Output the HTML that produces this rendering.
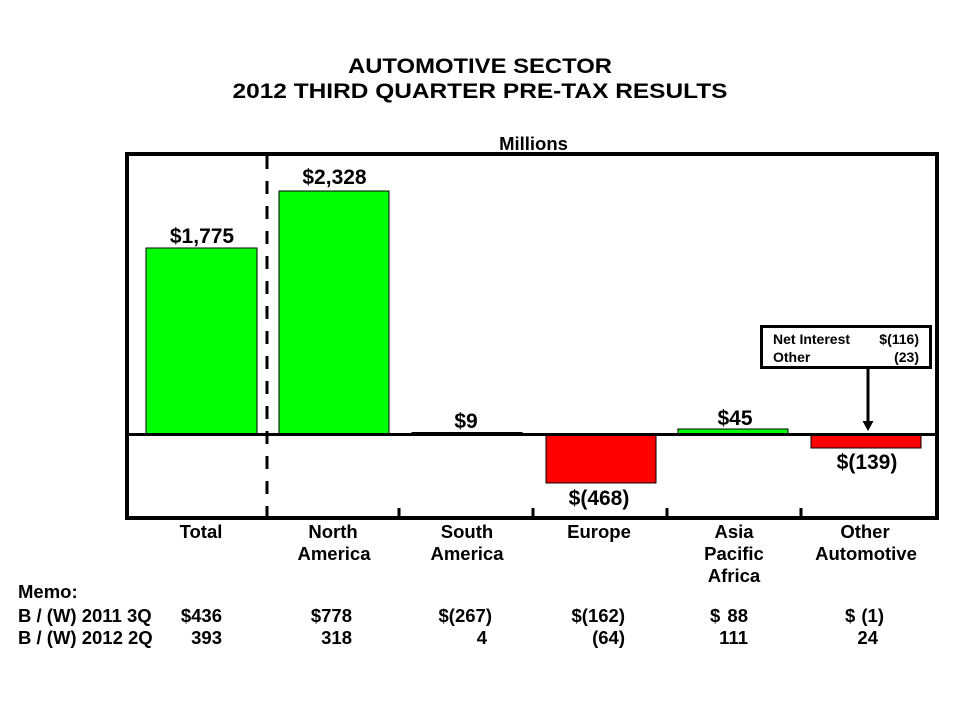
<!DOCTYPE html>
<html>
<head>
<meta charset="utf-8">
<style>
  html,body{margin:0;padding:0;background:#fff;}
  svg{display:block;}
  text{font-family:"Liberation Sans",Arial,sans-serif;font-weight:bold;fill:#000;}
</style>
</head>
<body>
<svg width="960" height="720" viewBox="0 0 960 720" xmlns="http://www.w3.org/2000/svg">
  <rect x="0" y="0" width="960" height="720" fill="#fff"/>

  <!-- Title -->
  <text x="480" y="73" font-size="21.5" text-anchor="middle" textLength="264" lengthAdjust="spacingAndGlyphs">AUTOMOTIVE SECTOR</text>
  <text x="480" y="98" font-size="21.5" text-anchor="middle" textLength="495" lengthAdjust="spacingAndGlyphs">2012 THIRD QUARTER PRE-TAX RESULTS</text>
  <text x="533.5" y="150" font-size="18.5" text-anchor="middle">Millions</text>

  <!-- Bars -->
  <rect x="146" y="248" width="111" height="186.5" fill="#00ff00" stroke="#000" stroke-width="1"/>
  <rect x="279" y="191" width="110" height="243.5" fill="#00ff00" stroke="#000" stroke-width="1"/>
  <rect x="412" y="432.5" width="110" height="2" fill="#00ff00" stroke="#000" stroke-width="1"/>
  <rect x="546" y="434.5" width="110" height="48.5" fill="#ff0000" stroke="#000" stroke-width="1"/>
  <rect x="678" y="429" width="110" height="5.5" fill="#00ff00" stroke="#000" stroke-width="1"/>
  <rect x="811" y="434.5" width="110" height="13.5" fill="#ff0000" stroke="#000" stroke-width="1"/>

  <!-- Zero line -->
  <line x1="127" y1="434.5" x2="937" y2="434.5" stroke="#000" stroke-width="3"/>

  <!-- Dashed divider -->
  <line x1="267" y1="156" x2="267" y2="517" stroke="#000" stroke-width="3" stroke-dasharray="13,12"/>

  <!-- Ticks -->
  <line x1="399" y1="508" x2="399" y2="518" stroke="#000" stroke-width="3"/>
  <line x1="533" y1="508" x2="533" y2="518" stroke="#000" stroke-width="3"/>
  <line x1="667" y1="508" x2="667" y2="518" stroke="#000" stroke-width="3"/>
  <line x1="801" y1="508" x2="801" y2="518" stroke="#000" stroke-width="3"/>

  <!-- Frame -->
  <rect x="127" y="154" width="810" height="364" fill="none" stroke="#000" stroke-width="4"/>

  <!-- Value labels -->
  <text x="202" y="243" font-size="21" text-anchor="middle">$1,775</text>
  <text x="334.5" y="184" font-size="21" text-anchor="middle">$2,328</text>
  <text x="466" y="428" font-size="21" text-anchor="middle">$9</text>
  <text x="599" y="505" font-size="21" text-anchor="middle">$(468)</text>
  <text x="735" y="425" font-size="21" text-anchor="middle">$45</text>
  <text x="867" y="469" font-size="21" text-anchor="middle">$(139)</text>

  <!-- Callout -->
  <rect x="761.5" y="326.5" width="169" height="41" fill="#fff" stroke="#000" stroke-width="3"/>
  <text x="773" y="344" font-size="14">Net Interest</text>
  <text x="919" y="344" font-size="14" text-anchor="end">$(116)</text>
  <text x="773" y="362" font-size="14">Other</text>
  <text x="919" y="362" font-size="14" text-anchor="end">(23)</text>
  <line x1="868" y1="368" x2="868" y2="424" stroke="#000" stroke-width="3"/>
  <polygon points="862.5,421 873.5,421 868,431" fill="#000"/>

  <!-- Category labels -->
  <text x="201" y="538" font-size="18.5" text-anchor="middle">Total</text>
  <text x="333" y="538" font-size="18.5" text-anchor="middle">North</text>
  <text x="334" y="560" font-size="18.5" text-anchor="middle">America</text>
  <text x="467" y="538" font-size="18.5" text-anchor="middle">South</text>
  <text x="467" y="560" font-size="18.5" text-anchor="middle">America</text>
  <text x="599" y="538" font-size="18.5" text-anchor="middle">Europe</text>
  <text x="734" y="538" font-size="18.5" text-anchor="middle">Asia</text>
  <text x="734" y="560" font-size="18.5" text-anchor="middle">Pacific</text>
  <text x="734" y="582" font-size="18.5" text-anchor="middle">Africa</text>
  <text x="865" y="538" font-size="18.5" text-anchor="middle">Other</text>
  <text x="866" y="560" font-size="18.5" text-anchor="middle">Automotive</text>

  <!-- Memo -->
  <text x="18" y="598" font-size="18.5">Memo:</text>
  <text x="18" y="622" font-size="18.5">B / (W) 2011 3Q</text>
  <text x="18" y="644" font-size="18.5">B / (W) 2012 2Q</text>

  <text x="222" y="622" font-size="18.5" text-anchor="end">$436</text>
  <text x="222" y="644" font-size="18.5" text-anchor="end">393</text>
  <text x="352" y="622" font-size="18.5" text-anchor="end">$778</text>
  <text x="352" y="644" font-size="18.5" text-anchor="end">318</text>
  <text x="492" y="622" font-size="18.5" text-anchor="end">$(267)</text>
  <text x="487" y="644" font-size="18.5" text-anchor="end">4</text>
  <text x="625" y="622" font-size="18.5" text-anchor="end">$(162)</text>
  <text x="625" y="644" font-size="18.5" text-anchor="end">(64)</text>
  <text x="710" y="622" font-size="18.5">$</text>
  <text x="748" y="622" font-size="18.5" text-anchor="end">88</text>
  <text x="748" y="644" font-size="18.5" text-anchor="end">111</text>
  <text x="845" y="622" font-size="18.5">$</text>
  <text x="884" y="622" font-size="18.5" text-anchor="end">(1)</text>
  <text x="878" y="644" font-size="18.5" text-anchor="end">24</text>
</svg>
</body>
</html>
